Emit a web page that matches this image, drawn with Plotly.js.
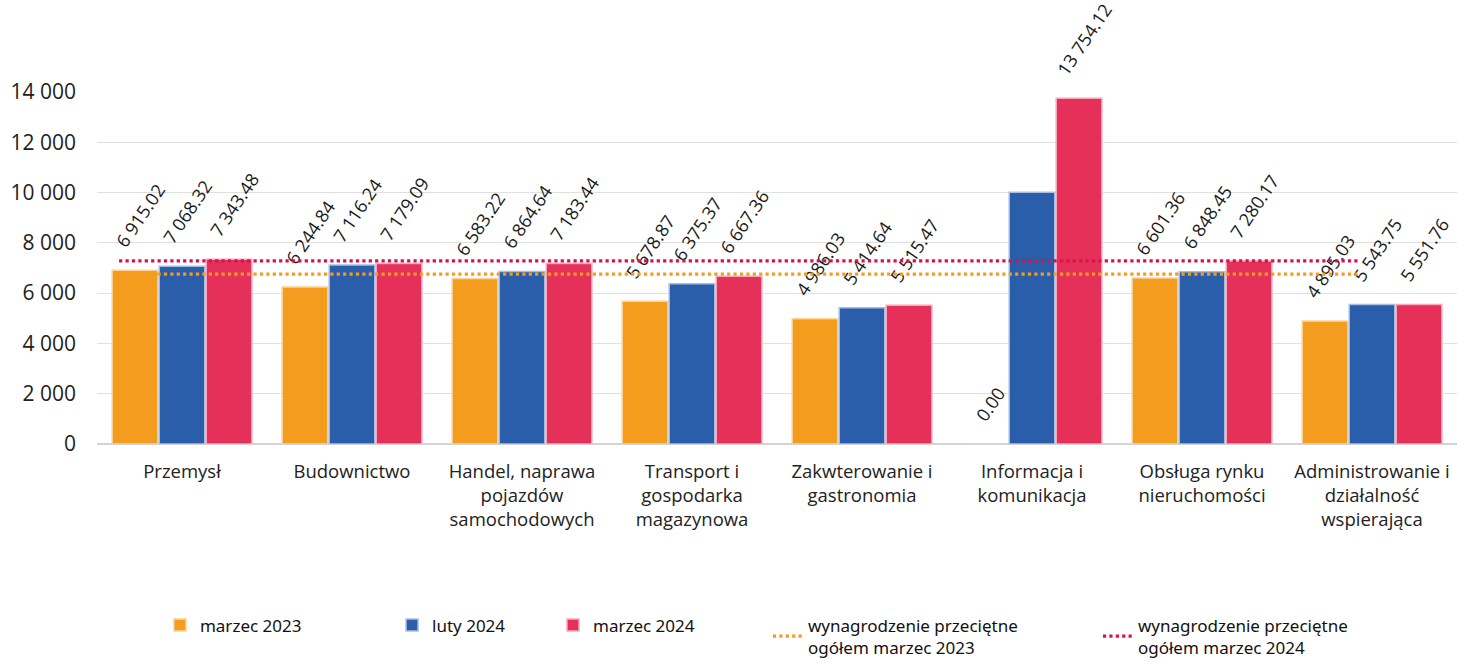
<!DOCTYPE html>
<html>
<head>
<meta charset="utf-8">
<script src="https://cdn.plot.ly/plotly-3.0.1.min.js"></script>
<style>
  html, body { margin: 0; padding: 0; background: #ffffff; }
  #chart { width: 1470px; height: 664px; }
</style>
</head>
<body>
<div id="chart"></div>
<script>
// ---- data ----
const categories = [
  "Przemysł",
  "Budownictwo",
  "Handel, naprawa<br>pojazdów<br>samochodowych",
  "Transport i<br>gospodarka<br>magazynowa",
  "Zakwterowanie i<br>gastronomia",
  "Informacja i<br>komunikacja",
  "Obsługa rynku<br>nieruchomości",
  "Administrowanie i<br>działalność<br>wspierająca"
];
const marzec2023 = [6915.02, 6244.84, 6583.22, 5678.87, 4986.03, 0.00, 6601.36, 4895.03];
const luty2024   = [7068.32, 7116.24, 6864.64, 6375.37, 5414.64, 10010, 6848.45, 5543.75];
const marzec2024 = [7343.48, 7179.09, 7183.44, 6667.36, 5515.47, 13754.12, 7280.17, 5551.76];
// which luty 2024 labels are printed in the source (Informacja i komunikacja has none)
const luty2024Labelled = [true, true, true, true, true, false, true, true];
const avg2023 = 6760;
const avg2024 = 7280;
const seriesNames = ["marzec 2023", "luty 2024", "marzec 2024",
  "wynagrodzenie przeciętne<br>ogółem marzec 2023",
  "wynagrodzenie przeciętne<br>ogółem marzec 2024"];
const yTicks = [0, 2000, 4000, 6000, 8000, 10000, 12000, 14000];

// ---- helpers ----
function fmt(v) {
  const s = v.toFixed(2);
  const parts = s.split(".");
  const intPart = parts[0].replace(/\B(?=(\d{3})+(?!\d))/g, " ");
  return intPart + "." + parts[1];
}
const pad = "\u00A0\u00A0\u00A0\u00A0";
const idx = categories.map((_, i) => i);
const lineSpan = [-0.37, 6.93];

const labelFont = { family: "Open Sans, Noto Sans, sans-serif", size: 18, color: "#1a1a1a" };

function barTrace(name, vals, color, edge, legendId, labels) {
  return {
    type: "bar",
    name: name,
    x: idx,
    y: vals,
    text: vals.map((v, i) => (labels && !labels[i]) ? "" : pad + fmt(v)),
    textposition: "outside",
    textangle: -56,
    constraintext: "none",
    cliponaxis: false,
    outsidetextfont: labelFont,
    textfont: labelFont,
    hoverinfo: "x+y",
    legend: legendId,
    marker: { color: color, line: { color: edge, width: 1.5 } }
  };
}

const traces = [
  barTrace(seriesNames[0], marzec2023, "#F39C1E", "#FBD49A", "legend"),
  barTrace(seriesNames[1], luty2024, "#2A5EAA", "#A8BFE3", "legend2", luty2024Labelled),
  barTrace(seriesNames[2], marzec2024, "#E5305A", "#F6A9BB", "legend3"),
  {
    type: "scatter", mode: "lines", name: seriesNames[3],
    x: lineSpan, y: [avg2023, avg2023],
    line: { color: "#F39C1E", width: 3.2, dash: "dot" },
    hoverinfo: "y", legend: "legend4"
  },
  {
    type: "scatter", mode: "lines", name: seriesNames[4],
    x: lineSpan, y: [avg2024, avg2024],
    line: { color: "#D8124C", width: 3.2, dash: "dot" },
    hoverinfo: "y", legend: "legend5"
  }
];

const legendFont = { family: "Liberation Sans Narrow, Noto Sans, sans-serif", size: 17, color: "#111" };
function legendAt(xFrac) {
  return {
    orientation: "h",
    xref: "container", yref: "container",
    x: xFrac, xanchor: "left",
    y: 0.085, yanchor: "top",
    font: legendFont
  };
}

const layout = {
  width: 1470,
  height: 664,
  paper_bgcolor: "#ffffff",
  plot_bgcolor: "#ffffff",
  margin: { l: 97, r: 13, t: 92, b: 220, autoexpand: false },
  separators: ". ",
  barmode: "group",
  bargap: 0.17,
  bargroupgap: 0.03,
  showlegend: true,
  font: { family: "Open Sans, Noto Sans, sans-serif", color: "#222" },
  xaxis: {
    range: [-0.5, categories.length - 0.5],
    tickvals: idx,
    ticktext: categories,
    tickangle: 0,
    ticks: "",
    ticklabelstandoff: 14,
    showgrid: false,
    zeroline: false,
    showline: false,
    tickfont: { family: "Open Sans, Noto Sans, sans-serif", size: 18.5, color: "#222" },
    fixedrange: true
  },
  yaxis: {
    range: [0, 14000],
    tickvals: yTicks,
    tickformat: ",d",
    ticks: "",
    ticklabelstandoff: 20,
    showgrid: true,
    gridcolor: "#e0e0e0",
    gridwidth: 1.2,
    zeroline: true,
    zerolinecolor: "#d4d4d4",
    zerolinewidth: 1.5,
    showline: false,
    tickfont: { family: "Open Sans, Noto Sans, sans-serif", size: 21, color: "#222" },
    fixedrange: true
  },
  legend: legendAt(0.1088),
  legend2: legendAt(0.2667),
  legend3: legendAt(0.3762),
  legend4: legendAt(0.5224),
  legend5: legendAt(0.7469)
};

Plotly.newPlot("chart", traces, layout, { displayModeBar: false, staticPlot: true });
</script>
</body>
</html>
